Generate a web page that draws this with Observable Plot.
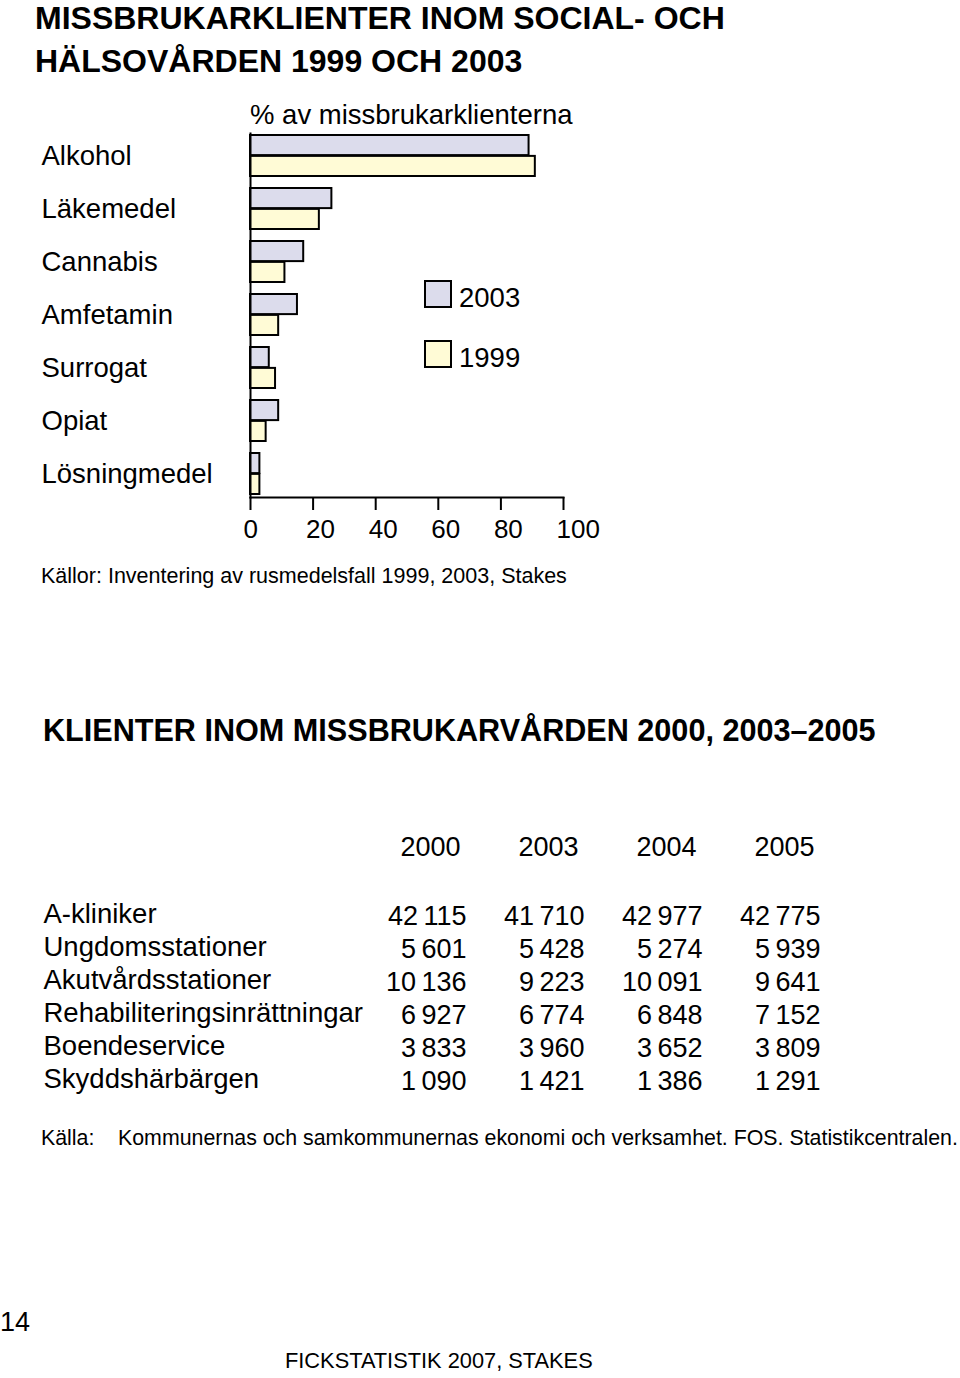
<!DOCTYPE html>
<html>
<head>
<meta charset="utf-8">
<script src="https://cdn.jsdelivr.net/npm/d3@7"></script>
<script src="https://cdn.jsdelivr.net/npm/@observablehq/plot@0.6"></script>
<style>
  html, body { margin: 0; padding: 0; background: #fff; }
  #page { position: relative; width: 960px; height: 1378px; overflow: hidden; font-family: "Liberation Sans", Arial, sans-serif; color: #000; }
  .t { position: absolute; white-space: nowrap; line-height: 1; }
  .sw { position: absolute; width: 24px; height: 24px; border: 2px solid #000; }
</style>
</head>
<body>
<div id="page"></div>
<script>
// ---------- Data: chart 1 ----------
const categories = ["Alkohol", "Läkemedel", "Cannabis", "Amfetamin", "Surrogat", "Opiat", "Lösningmedel"];
const values2003 = [89, 26, 17, 15, 6, 9, 3];
const values1999 = [91, 22, 11, 9, 8, 5, 3];
const seriesNames = ["2003", "1999"];
const seriesColors = ["#dcdcec", "#fffbd6"];
const xTicks = [0, 20, 40, 60, 80, 100];

// ---------- Data: table ----------
const tableYears = ["2000", "2003", "2004", "2005"];
const tableRows = ["A-kliniker", "Ungdomsstationer", "Akutvårdsstationer", "Rehabiliteringsinrättningar", "Boendeservice", "Skyddshärbärgen"];
const clients2000 = [42115, 5601, 10136, 6927, 3833, 1090];
const clients2003 = [41710, 5428, 9223, 6774, 3960, 1421];
const clients2004 = [42977, 5274, 10091, 6848, 3652, 1386];
const clients2005 = [42775, 5939, 9641, 7152, 3809, 1291];

const page = document.getElementById("page");
const FONT = '"Liberation Sans", Arial, sans-serif';

function place(text, x, cy, fs, weight) {
  const d = document.createElement("div");
  d.className = "t";
  d.textContent = text;
  d.style.left = x + "px";
  d.style.top = (cy - 0.49 * fs) + "px";
  d.style.fontSize = fs + "px";
  if (weight) d.style.fontWeight = weight;
  page.appendChild(d);
  return d;
}

// Titles and texts
place("MISSBRUKARKLIENTER INOM SOCIAL- OCH", 35, 17.5, 32, "bold");
place("HÄLSOVÅRDEN 1999 OCH 2003", 35, 61, 32, "bold");
place("% av missbrukarklienterna", 250, 114, 27.5);
place("Källor: Inventering av rusmedelsfall 1999, 2003, Stakes", 41, 577, 21.5);
place("KLIENTER INOM MISSBRUKARVÅRDEN 2000, 2003\u20132005", 43, 730, 30.6, "bold");
place("Källa:", 41, 1138, 21.35);
place("Kommunernas och samkommunernas ekonomi och verksamhet. FOS. Statistikcentralen.", 118, 1138, 21.35);
place("14", 0, 1322, 27);
place("FICKSTATISTIK 2007, STAKES", 285, 1361, 21.8);

// Legend
[[280, 297], [340, 357]].forEach(([top, cy], i) => {
  const s = document.createElement("div");
  s.className = "sw";
  s.style.left = "424px";
  s.style.top = top + "px";
  s.style.background = seriesColors[i];
  page.appendChild(s);
  place(seriesNames[i], 459, cy, 27.5);
});

// ---------- Chart 1 ----------
const data2003 = categories.map((c, i) => ({cat: c, value: values2003[i]}));
const data1999 = categories.map((c, i) => ({cat: c, value: values1999[i]}));

const H1 = 460, mT = 33, mB = 63;
const padIn = 0.222;
const step = (H1 - mT - mB) / (categories.length - padIn);
const bw = step * (1 - padIn);
const half = bw / 2;

const chart1 = Plot.plot({
  width: 960,
  height: H1,
  marginTop: mT,
  marginBottom: mB,
  marginLeft: 250,
  marginRight: 397,
  style: {fontFamily: FONT, fontSize: "26px", color: "#000", background: "transparent", overflow: "visible"},
  x: {domain: [0, 100]},
  y: {domain: categories, paddingInner: padIn, paddingOuter: 0},
  marks: [
    Plot.barX(data2003, {x: "value", y: "cat", fill: seriesColors[0], stroke: "#000", strokeWidth: 2, insetBottom: half}),
    Plot.barX(data1999, {x: "value", y: "cat", fill: seriesColors[1], stroke: "#000", strokeWidth: 2, insetTop: half}),
    Plot.frame({anchor: "left", stroke: "#000", strokeWidth: 2}),
    Plot.frame({anchor: "bottom", stroke: "#000", strokeWidth: 2}),
    Plot.axisX({ticks: xTicks, tickSize: 13, strokeWidth: 2, tickFormat: () => "", label: null}),
    Plot.axisX({ticks: xTicks, tickSize: 0, tickPadding: 22, fontSize: 26, textAnchor: "start", dx: -7, label: null}),
    Plot.axisY({tickSize: 0, tickPadding: 0, textAnchor: "start", dx: -209, fontSize: 27.5, label: null})
  ]
});
chart1.style.position = "absolute";
chart1.style.left = "0px";
chart1.style.top = "100px";
page.appendChild(chart1);

// ---------- Table ----------
const fmt = d3.formatLocale({thousands: "\u2009", grouping: [3], decimal: ","}).format(",d");
const cols = [clients2000, clients2003, clients2004, clients2005];
const cells = [];
tableYears.forEach((y, j) => tableRows.forEach((r, i) => cells.push({year: y, row: r, value: cols[j][i]})));

const chart2 = Plot.plot({
  width: 960,
  height: 290,
  marginTop: 27,
  marginLeft: 43,
  marginRight: 0,
  marginBottom: 0,
  style: {fontFamily: FONT, fontSize: "27px", color: "#000", background: "transparent", overflow: "visible"},
  x: {type: "band", domain: tableYears, range: [370.8, 844], padding: 0, axis: null},
  y: {type: "point", domain: tableRows, range: [94.5, 263.3], padding: 0, axis: null},
  marks: [
    Plot.text(tableYears, {x: d => d, frameAnchor: "top", lineAnchor: "middle", fontSize: 27, fill: "#000"}),
    Plot.text(tableRows, {y: d => d, frameAnchor: "left", textAnchor: "start", fontSize: 27.5, dy: -2, fill: "#000"}),
    Plot.text(cells, {x: "year", y: "row", text: d => fmt(d.value), textAnchor: "end", dx: 36, fontSize: 27, fill: "#000"})
  ]
});
chart2.style.position = "absolute";
chart2.style.left = "0px";
chart2.style.top = "820px";
page.appendChild(chart2);
</script>
</body>
</html>
